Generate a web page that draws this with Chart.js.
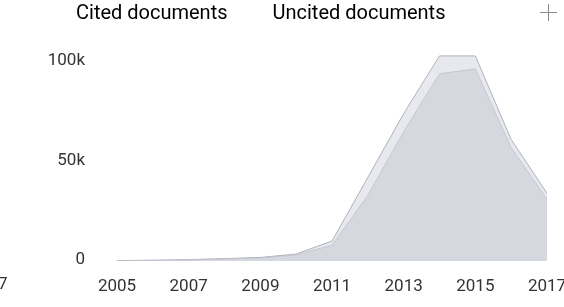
<!DOCTYPE html>
<html>
<head>
<meta charset="utf-8">
<script src="https://cdn.jsdelivr.net/npm/chart.js@4.4.1/dist/chart.umd.min.js"></script>
<style>
  html, body { margin:0; padding:0; background:#fff; }
  #wrap { width:564px; height:307px; }
</style>
</head>
<body>
<div id="wrap"><canvas id="docChart"></canvas></div>
<script>
Chart.defaults.font.family = 'Roboto, "Noto Sans", sans-serif';
Chart.defaults.color = '#333';

const years     = [2005, 2006, 2007, 2008, 2009, 2010, 2011, 2012, 2013, 2014, 2015, 2016, 2017];
const cited     = [150, 300, 550, 1000, 1500, 3000, 8000, 33000, 65000, 94000, 96500, 57000, 31000];
const uncited   = [50, 100, 150, 200, 300, 500, 2000, 9000, 9000, 9000, 6500, 4000, 3000];
const yTicks    = [0, 50000, 100000];
const xTicks    = [2005, 2007, 2009, 2011, 2013, 2015, 2017];
const seriesNames = ['Cited documents', 'Uncited documents'];

const pts = arr => years.map((yr, i) => ({ x: yr, y: arr[i] }));

// bits of the scanned page around the chart: a crosshair icon and a cut-off label
const pageBits = {
  id: 'pageBits',
  afterDraw(chart) {
    const c = chart.ctx;
    c.save();
    c.strokeStyle = '#8a8a8a';
    c.lineWidth = 1;
    c.beginPath();
    c.moveTo(540, 12.5); c.lineTo(557, 12.5);
    c.moveTo(548.5, 4);  c.lineTo(548.5, 21);
    c.stroke();
    c.fillStyle = '#333';
    c.font = '17px Roboto';
    c.textBaseline = 'middle';
    c.fillText('7', -2, 285);
    c.restore();
  }
};

new Chart(document.getElementById('docChart'), {
  type: 'line',
  data: {
    datasets: [
      {
        label: seriesNames[0],
        data: pts(cited),
        backgroundColor: 'rgb(214,216,224)',
        borderColor: 'rgba(190,192,202,.8)',
        borderWidth: 1,
        fill: 'origin',
        pointRadius: 0,
        tension: 0
      },
      {
        label: seriesNames[1],
        data: pts(uncited),
        backgroundColor: 'rgb(232,233,238)',
        borderColor: 'rgb(175,177,188)',
        borderWidth: 1,
        fill: '-1',
        pointRadius: 0,
        tension: 0
      }
    ]
  },
  options: {
    responsive: true,
    maintainAspectRatio: false,
    animation: false,
    layout: { padding: { left:31, right:17, top:0, bottom:0 } },
    plugins: {
      tooltip: { enabled:false },
      legend: {
        position: 'top',
        align: 'start',
        labels: {
          color: '#262626',
          font: { size:20 },
          boxWidth: 31,
          padding: 4,
          generateLabels: chart => chart.data.datasets.map((d, i) => ({
            text: d.label, datasetIndex: i,
            fillStyle: 'rgba(0,0,0,0)', strokeStyle: 'rgba(0,0,0,0)', lineWidth: 0
          }))
        }
      }
    },
    scales: {
      x: {
        type: 'linear',
        min: 2005, max: 2017,
        grid: { display:false, drawTicks:false },
        border: { display:false },
        afterBuildTicks: s => { s.ticks = xTicks.map(v => ({ value:v })); },
        afterFit: s => { s.height = 46; s.paddingRight = 0; s.paddingLeft = 0; },
        ticks: { font:{ size:17 }, color:'#333', padding:16, maxRotation:0, autoSkip:false,
                 callback: v => String(v) }
      },
      y: {
        stacked: true,
        min: 0, max: 114000,
        grid: { display:false, drawTicks:false },
        border: { display:false },
        afterBuildTicks: s => { s.ticks = yTicks.map(v => ({ value:v })); },
        afterFit: s => { s.width = 86; s.paddingTop = 0; s.paddingBottom = 0; },
        ticks: { font:{ size:17 }, color:'#333', padding:32, labelOffset:-1,
                 callback: v => v === 0 ? '0' : (v / 1000) + 'k' }
      }
    }
  },
  plugins: [pageBits]
});
</script>
</body>
</html>
